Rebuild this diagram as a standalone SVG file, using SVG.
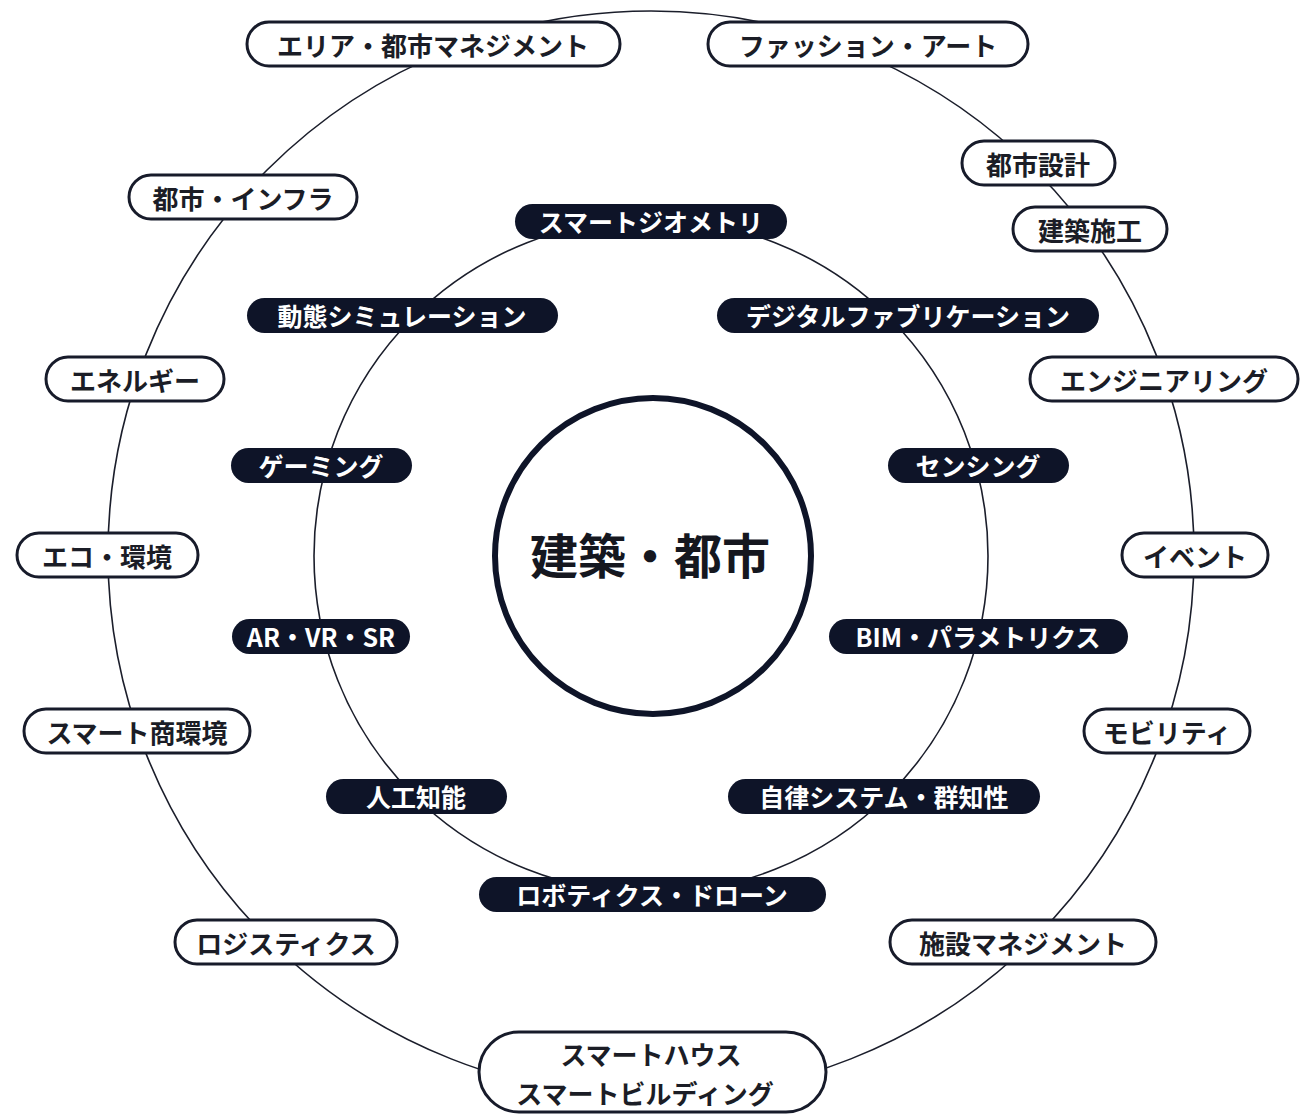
<svg xmlns="http://www.w3.org/2000/svg" width="1304" height="1119" viewBox="0 0 1304 1119">
<style>
text{font-family:"Noto Sans CJK JP","Noto Sans",sans-serif;font-weight:700;text-anchor:middle;dominant-baseline:central}
.o rect{fill:#ffffff;stroke:#171b2a;stroke-width:3}
.o text{fill:#1b1d26;font-size:26px}
.i rect{fill:#0e1428;stroke:none}
.i text{fill:#ffffff;font-size:25px}
.c{fill:none;stroke:#1b1e2b;stroke-width:1.6}
</style>
<rect width="1304" height="1119" fill="#ffffff"/>
<g id="connectors">
<circle class="c" cx="651" cy="554" r="543"/>
<circle class="c" cx="651" cy="556" r="337"/>
</g>
<g id="center">
<circle cx="653" cy="556" r="158" fill="#ffffff" stroke="#0e1428" stroke-width="6"/>
<text x="650" y="553" style="font-size:48px;fill:#15171f">建築・都市</text>
</g>
<g id="n-area" class="o"><rect x="247" y="22" width="373" height="44" rx="22"/><text x="433" y="44">エリア・都市マネジメント</text></g>
<g id="n-fashion" class="o"><rect x="708" y="22" width="320" height="44" rx="22"/><text x="868" y="44">ファッション・アート</text></g>
<g id="n-toshisekkei" class="o"><rect x="962" y="141" width="153" height="44" rx="22"/><text x="1038" y="163">都市設計</text></g>
<g id="n-kenchiku" class="o"><rect x="1013" y="207" width="154" height="44" rx="22"/><text x="1090" y="229">建築施工</text></g>
<g id="n-infra" class="o"><rect x="129" y="175" width="228" height="44" rx="22"/><text x="243" y="197">都市・インフラ</text></g>
<g id="n-energy" class="o"><rect x="46" y="357" width="178" height="44" rx="22"/><text x="135" y="379">エネルギー</text></g>
<g id="n-engineering" class="o"><rect x="1030" y="357" width="268" height="44" rx="22"/><text x="1164" y="379">エンジニアリング</text></g>
<g id="n-eco" class="o"><rect x="17" y="533" width="181" height="44" rx="22"/><text x="107" y="555">エコ・環境</text></g>
<g id="n-event" class="o"><rect x="1122" y="533" width="146" height="44" rx="22"/><text x="1195" y="555">イベント</text></g>
<g id="n-shop" class="o"><rect x="24" y="709" width="226" height="44" rx="22"/><text x="137" y="731">スマート商環境</text></g>
<g id="n-mobility" class="o"><rect x="1084" y="709" width="166" height="44" rx="22"/><text x="1167" y="731">モビリティ</text></g>
<g id="n-logistics" class="o"><rect x="175" y="920" width="222" height="44" rx="22"/><text x="286" y="942">ロジスティクス</text></g>
<g id="n-facility" class="o"><rect x="890" y="920" width="266" height="44" rx="22"/><text x="1023" y="942">施設マネジメント</text></g>
<g id="n-house" class="o"><rect x="479" y="1032" width="347" height="80" rx="40"/><text x="651" y="1053">スマートハウス</text><text x="645" y="1092">スマートビルディング</text></g>
<g id="i-geometry" class="i"><rect x="515" y="204" width="272" height="35" rx="17.5"/><text x="651" y="221">スマートジオメトリ</text></g>
<g id="i-simulation" class="i"><rect x="247" y="298" width="311" height="35" rx="17.5"/><text x="402" y="315">動態シミュレーション</text></g>
<g id="i-fabrication" class="i"><rect x="717" y="298" width="382" height="35" rx="17.5"/><text x="908" y="315">デジタルファブリケーション</text></g>
<g id="i-gaming" class="i"><rect x="231" y="448" width="181" height="35" rx="17.5"/><text x="321" y="465">ゲーミング</text></g>
<g id="i-sensing" class="i"><rect x="888" y="448" width="181" height="35" rx="17.5"/><text x="978" y="465">センシング</text></g>
<g id="i-arvr" class="i"><rect x="232" y="619" width="178" height="35" rx="17.5"/><text x="321" y="636">AR・VR・SR</text></g>
<g id="i-bim" class="i"><rect x="829" y="619" width="299" height="35" rx="17.5"/><text x="978" y="636">BIM・パラメトリクス</text></g>
<g id="i-ai" class="i"><rect x="326" y="779" width="181" height="35" rx="17.5"/><text x="416" y="796">人工知能</text></g>
<g id="i-autonomy" class="i"><rect x="728" y="779" width="312" height="35" rx="17.5"/><text x="884" y="796">自律システム・群知性</text></g>
<g id="i-robotics" class="i"><rect x="479" y="877" width="347" height="35" rx="17.5"/><text x="652" y="894">ロボティクス・ドローン</text></g>
</svg>
